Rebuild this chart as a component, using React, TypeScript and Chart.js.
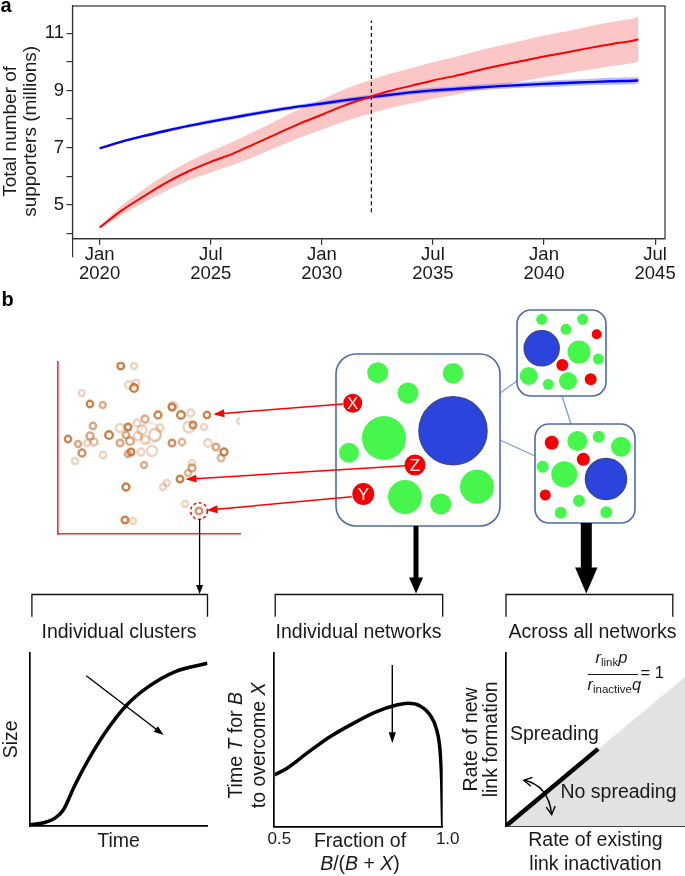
import React, { useEffect, useRef } from 'react';
import { Chart, registerables } from 'chart.js';

Chart.register(...registerables);

const FONT = '"Liberation Sans", Arial, Helvetica, sans-serif';

// ---------------- Panel a data ----------------
const timeX = [0, 1, 2, 3, 4, 5, 6, 7, 8, 9, 10, 11, 12, 13, 14, 15, 16, 17, 18, 19, 20, 21, 22, 23, 24, 24.25];
const redMean = [4.2, 4.8, 5.3, 5.77, 6.17, 6.5, 6.79, 7.14, 7.49, 7.84, 8.15, 8.47, 8.73, 8.97, 9.16, 9.35, 9.51, 9.7, 9.87, 10.03, 10.19, 10.33, 10.48, 10.62, 10.74, 10.79];
const redUpper = [4.25, 4.97, 5.55, 6.07, 6.5, 6.87, 7.2, 7.58, 7.96, 8.34, 8.68, 9.03, 9.31, 9.57, 9.78, 9.99, 10.17, 10.38, 10.57, 10.74, 10.92, 11.07, 11.24, 11.39, 11.52, 11.57];
const redLower = [4.15, 4.65, 5.08, 5.49, 5.85, 6.13, 6.39, 6.7, 7.02, 7.34, 7.62, 7.91, 8.15, 8.37, 8.54, 8.71, 8.85, 9.02, 9.17, 9.32, 9.46, 9.59, 9.72, 9.85, 9.96, 10.01];
const blueMean = [6.97, 7.21, 7.41, 7.59, 7.76, 7.91, 8.05, 8.19, 8.32, 8.44, 8.54, 8.65, 8.75, 8.84, 8.93, 9.0, 9.05, 9.1, 9.15, 9.19, 9.23, 9.26, 9.29, 9.32, 9.34, 9.35];
const blueUpper = [7.0, 7.25, 7.46, 7.65, 7.82, 7.98, 8.12, 8.26, 8.39, 8.51, 8.62, 8.73, 8.83, 8.92, 9.01, 9.09, 9.14, 9.2, 9.25, 9.29, 9.34, 9.37, 9.4, 9.44, 9.46, 9.47];
const blueLower = [6.94, 7.17, 7.36, 7.53, 7.7, 7.84, 7.98, 8.12, 8.25, 8.37, 8.46, 8.57, 8.67, 8.76, 8.85, 8.91, 8.96, 9.0, 9.05, 9.09, 9.12, 9.15, 9.18, 9.2, 9.22, 9.23];
const dashX = [12.23, 12.23];
const dashY = [4.74, 11.45];
const xTickValues = [0, 5, 10, 15, 20, 25];
const xTickMonths = ['Jan', 'Jul', 'Jan', 'Jul', 'Jan', 'Jul'];
const xTickYears = ['2020', '2025', '2030', '2035', '2040', '2045'];
const yTickValues = [4, 5, 6, 7, 8, 9, 10, 11];
const yTickLabels = ['', '5', '', '7', '', '9', '', '11'];

// ---------------- Panel b: cluster scatter ----------------
const clusterX = [62.7, 76, 71, 78, 76, 23.7, 32, 44.7, 114, 115, 123, 132.7, 149, 182, 100, 87, 35, 70, 62, 79, 92, 97, 135, 131, 146, 10, 32, 51, 68, 72, 20, 29, 36, 62, 114, 124, 150, 158, 166, 163, 24, 45, 73, 70, 83, 94, 17, 86, 134, 134, 130, 122, 109, 105, 68, 127, 141, 67, 75, 84, 102, 87, 80];
const clusterY = [168, 168, 149, 151, 146, 141, 130, 129, 127, 128, 119, 121, 119, 113, 119, 115, 108, 107, 106, 111, 101, 99, 109, 107, 107, 95, 98, 99, 99, 93, 90, 91, 92, 91, 91, 92, 91, 87, 82, 76, 81, 79, 82, 80, 82, 83, 73, 69, 71, 66, 61, 55, 51, 47, 47, 30, 23, 14, 13, 104, 106, 94, 98];
const clusterR = [3.3, 3, 3.8, 3.3, 3.8, 3, 3.2, 3, 3.3, 4.3, 3.8, 3.5, 3.2, 3, 3.5, 3.5, 3.2, 3.3, 4, 3.5, 10, 6, 3.3, 5.5, 3, 3.2, 3.5, 3.8, 3.2, 3.8, 3, 3, 3.5, 3.3, 3.3, 3.2, 3.8, 3.3, 3.5, 3.3, 3.5, 3.3, 3.3, 3, 3.5, 5, 3, 3, 3, 3.5, 3, 3.3, 3, 3, 3.5, 3, 3.3, 3.3, 3, 4.5, 3.5, 4, 4];
const clusterAlpha = [0.85, 0.3, 0.3, 0.3, 0.85, 0.3, 0.85, 0.55, 0.85, 0.3, 0.85, 0.3, 0.85, 0.3, 0.8, 0.55, 0.6, 0.85, 0.3, 0.3, 0.15, 0.35, 0.8, 0.3, 0.3, 0.85, 0.6, 0.85, 0.6, 0.6, 0.6, 0.3, 0.45, 0.6, 0.75, 0.5, 0.3, 0.6, 0.85, 0.5, 0.75, 0.3, 0.85, 0.6, 0.3, 0.3, 0.3, 0.55, 0.3, 0.6, 0.5, 0.85, 0.3, 0.3, 0.85, 0.3, 0.7, 0.85, 0.3, 0.3, 0.3, 0.3, 0.3];
const highlightIndex = 56;

// ---------------- Panel b: networks ----------------
const netX = [57.7, 133, 88, 32.7, 64, 133, 29, 95, 157, 43.3, 85, 120.7,
  221.7, 262.7, 246, 276.7, 221.7, 259, 278.3, 242.3, 208.7, 228.3, 248, 270.7,
  231.7, 257.3, 278.7, 301, 263.3, 222.7, 244.3, 286, 225.3, 259, 240.7, 286.3];
const netY = [72.7, 73.3, 93, 103.3, 138, 130.7, 152.7, 165, 186.7, 194, 197, 204,
  19.3, 19.3, 29.3, 34.3, 48.3, 52, 59, 65, 76, 84.3, 81, 79.3,
  142.7, 141, 136.7, 146.7, 159.3, 166.7, 174.3, 179, 195, 200.7, 212.7, 212.3];
const netR = [10.5, 10.3, 10.5, 9.5, 22, 34, 10, 10.5, 17, 11, 17, 10.5,
  5.5, 5.5, 5.5, 5, 17.5, 11.5, 5.5, 6, 9, 5.5, 9, 6,
  7, 10, 6, 10, 6.5, 6, 13, 20.5, 5.5, 6, 6, 6];
const netKind = ['g', 'g', 'g', 'r', 'g', 'b', 'g', 'r', 'g', 'r', 'g', 'g',
  'g', 'g', 'g', 'r', 'b', 'g', 'g', 'r', 'g', 'g', 'g', 'r',
  'r', 'g', 'g', 'g', 'r', 'g', 'g', 'b', 'r', 'g', 'g', 'g'];
const netLabel = ['', '', '', 'X', '', '', '', 'Z', '', 'Y', '', '',
  '', '', '', '', '', '', '', '', '', '', '', '',
  '', '', '', '', '', '', '', '', '', '', '', ''];
const boxX0 = [16, 197, 215];
const boxY0 = [54, 10, 124];
const boxX1 = [180, 286, 315];
const boxY1 = [226, 96, 223];
const boxRadius = [20, 14, 14];
const linkX0 = [180, 180, 242];
const linkY0 = [93, 140, 96];
const linkX1 = [197, 215, 251];
const linkY1 = [81, 156, 124];

// ---------------- Panel b: small charts ----------------
const sizeTimeX = [0, 0.79, 1.4, 1.89, 2.5, 3.24, 4.22, 5.46, 6.68, 8.16, 10];
const sizeY = [0.06, 0.19, 0.44, 0.92, 2.27, 3.71, 5.35, 6.98, 8.04, 8.9, 9.39];
const fractionX = [0.5, 0.5368, 0.596, 0.6654, 0.7346, 0.804, 0.8634, 0.898, 0.9326, 0.9623, 0.9822, 0.992, 0.997, 1.0];
const timeTY = [2.97, 3.35, 4.21, 5.17, 5.94, 6.61, 6.99, 7.09, 6.94, 6.42, 5.56, 4.41, 2.68, 0];
const fracTicks = [0.5, 1.0];
const thresholdX = [0, 10];
const thresholdY = [0, 8.6];
const spreadLineX = [0, 5.15];
const spreadLineY = [0, 4.45];

const GREEN = 'rgb(70,246,76)';
const BLUE = 'rgb(43,68,222)';
const RED = 'rgb(245,0,0)';

const xy = (xs: number[], ys: number[]) => xs.map((x, i) => ({ x, y: ys[i] }));

const zeroPadV = (w: number) => (s: any) => { s.width = w; s.paddingTop = 0; s.paddingBottom = 0; };
const zeroPadH = (h: number) => (s: any) => { s.height = h; s.paddingLeft = 0; s.paddingRight = 0; };

const framePlugin = {
  id: 'frame',
  afterDraw(chart: any) {
    const { ctx, chartArea } = chart;
    ctx.save();
    ctx.strokeStyle = '#333';
    ctx.lineWidth = 1.2;
    ctx.strokeRect(chartArea.left, chartArea.top, chartArea.right - chartArea.left, chartArea.bottom - chartArea.top);
    ctx.restore();
  },
};

// moves the centre of the y-axis title a little lower, as in the original figure
const titleShiftPlugin = {
  id: 'titleShift',
  afterLayout(chart: any) {
    const y = chart.scales.y;
    if (y) y.bottom += 18;
  },
};

const noAxis = (min: number, max: number, reverse = false) => ({
  type: 'linear', display: false, min, max, reverse,
});

const baseOptions = (padding: any) => ({
  responsive: false, animation: false, events: [],
  layout: { padding, autoPadding: false },
  plugins: { legend: { display: false }, tooltip: { enabled: false } },
});

function panelAConfig(): any {
  const tickFont = { family: FONT, size: 18.5, lineHeight: 1.0 };
  const grid = { display: true, drawOnChartArea: false, drawTicks: true, tickLength: 6, color: '#333', lineWidth: 1.2 };
  const border = { display: true, color: '#333', width: 1.2 };
  const line = { pointRadius: 0, cubicInterpolationMode: 'monotone', fill: false };
  return {
    type: 'line',
    data: {
      datasets: [
        { ...line, data: xy(timeX, redMean), borderColor: '#ff0000', borderWidth: 2, order: 0 },
        { ...line, data: xy(timeX, blueMean), borderColor: '#0000ff', borderWidth: 2.4, order: 1 },
        { ...line, data: xy(dashX, dashY), borderColor: '#111', borderWidth: 1.2, borderDash: [4, 3], order: 2 },
        { ...line, data: xy(timeX, blueUpper), borderWidth: 0, borderColor: 'rgba(0,0,0,0)', backgroundColor: 'rgba(95,95,240,0.42)', fill: '+1', order: 3 },
        { ...line, data: xy(timeX, blueLower), borderWidth: 0, borderColor: 'rgba(0,0,0,0)', order: 4 },
        { ...line, data: xy(timeX, redUpper), borderWidth: 0, borderColor: 'rgba(0,0,0,0)', backgroundColor: 'rgba(245,120,120,0.42)', fill: '+1', order: 5 },
        { ...line, data: xy(timeX, redLower), borderWidth: 0, borderColor: 'rgba(0,0,0,0)', order: 6 },
      ],
    },
    options: {
      ...baseOptions({ top: 6, right: 20, left: 0, bottom: 0 }),
      scales: {
        x: {
          type: 'linear', min: -1.22, max: 25.445,
          afterBuildTicks: (s: any) => { s.ticks = xTickValues.map((v) => ({ value: v })); },
          afterFit: zeroPadH(51.3),
          grid, border,
          ticks: {
            padding: 1, color: '#1a1a1a', font: tickFont, maxRotation: 0, autoSkip: false,
            callback: (v: number) => { const i = xTickValues.indexOf(v); return i < 0 ? '' : [xTickMonths[i], xTickYears[i]]; },
          },
        },
        y: {
          type: 'linear', min: 3.81, max: 11.955,
          afterBuildTicks: (s: any) => { s.ticks = yTickValues.map((v) => ({ value: v })); },
          afterFit: zeroPadV(72.5),
          grid, border,
          ticks: {
            padding: 2.5, color: '#1a1a1a', font: { family: FONT, size: 18.5 }, autoSkip: false,
            callback: (v: number) => { const i = yTickValues.indexOf(v); return i < 0 ? '' : yTickLabels[i]; },
          },
          title: {
            display: true, text: ['Total number of', 'supporters (millions)'], color: '#1a1a1a',
            font: { family: FONT, size: 19, lineHeight: 1.03 }, padding: { top: 1, bottom: 0 },
          },
        },
      },
    },
    plugins: [framePlugin, titleShiftPlugin],
  };
}

const highlightPlugin = {
  id: 'highlight',
  afterDatasetsDraw(chart: any) {
    const el = chart.getDatasetMeta(0).data[highlightIndex];
    if (!el) return;
    const { ctx } = chart;
    ctx.save();
    ctx.strokeStyle = '#f00';
    ctx.lineWidth = 1.5;
    ctx.setLineDash([3, 2.5]);
    ctx.beginPath();
    ctx.arc(el.x, el.y, 8.3, 0, Math.PI * 2);
    ctx.stroke();
    ctx.restore();
  },
};

function clusterConfig(): any {
  const border = { display: true, color: '#ff2a2a', width: 1.6 };
  return {
    type: 'scatter',
    data: {
      datasets: [{
        data: xy(clusterX, clusterY),
        pointRadius: clusterR,
        pointBackgroundColor: 'rgba(255,255,255,0)',
        pointBorderColor: clusterAlpha.map((a) => `rgba(195,108,45,${a})`),
        pointBorderWidth: 2.4,
      }],
    },
    options: {
      ...baseOptions({ left: 8, top: 7, right: 10, bottom: 6 }),
      scales: {
        x: { type: 'linear', min: 0, max: 182, ticks: { display: false }, grid: { display: false, drawTicks: false }, border, afterFit: zeroPadH(0) },
        y: { type: 'linear', min: 0, max: 172, ticks: { display: false }, grid: { display: false, drawTicks: false }, border, afterFit: zeroPadV(0) },
      },
    },
    plugins: [highlightPlugin],
  };
}

const networkPlugin = {
  id: 'networkBoxes',
  beforeDatasetsDraw(chart: any) {
    const { ctx, scales } = chart;
    const sx = scales.x, sy = scales.y;
    ctx.save();
    ctx.strokeStyle = 'rgb(125,155,220)';
    ctx.lineWidth = 1.3;
    linkX0.forEach((_, i) => {
      ctx.beginPath();
      ctx.moveTo(sx.getPixelForValue(linkX0[i]), sy.getPixelForValue(linkY0[i]));
      ctx.lineTo(sx.getPixelForValue(linkX1[i]), sy.getPixelForValue(linkY1[i]));
      ctx.stroke();
    });
    boxX0.forEach((_, i) => {
      const x0 = sx.getPixelForValue(boxX0[i]);
      const x1 = sx.getPixelForValue(boxX1[i]);
      const y0 = sy.getPixelForValue(boxY0[i]);
      const y1 = sy.getPixelForValue(boxY1[i]);
      ctx.beginPath();
      ctx.roundRect(x0, y0, x1 - x0, y1 - y0, boxRadius[i]);
      ctx.fillStyle = '#fff';
      ctx.fill();
      ctx.strokeStyle = 'rgb(78,108,168)';
      ctx.lineWidth = 1.6;
      ctx.stroke();
    });
    ctx.restore();
  },
  afterDatasetsDraw(chart: any) {
    const { ctx } = chart;
    const meta = chart.getDatasetMeta(0);
    ctx.save();
    ctx.fillStyle = '#fff';
    ctx.font = `17px ${FONT}`;
    ctx.textAlign = 'center';
    ctx.textBaseline = 'middle';
    netLabel.forEach((t, i) => {
      if (!t) return;
      const el = meta.data[i];
      ctx.fillText(t, el.x, el.y + 1);
    });
    ctx.restore();
  },
};

function networkConfig(): any {
  const colorOf = (k: string) => (k === 'g' ? GREEN : k === 'b' ? BLUE : RED);
  return {
    type: 'bubble',
    data: {
      datasets: [{
        data: netX.map((x, i) => ({ x, y: netY[i], r: netR[i] })),
        backgroundColor: netKind.map(colorOf),
        borderColor: netKind.map((k) => (k === 'b' ? 'rgb(55,70,150)' : colorOf(k))),
        borderWidth: netKind.map((k) => (k === 'b' ? 1.5 : 0)),
      }],
    },
    options: {
      ...baseOptions(0),
      scales: { x: noAxis(0, 365), y: noAxis(0, 235, true) },
    },
    plugins: [networkPlugin],
  };
}

function miniScales(opts: any): any {
  const border = { display: true, color: '#000', width: 1.7 };
  return {
    x: {
      type: 'linear', min: opts.xmin, max: opts.xmax,
      grid: { display: false, drawTicks: false }, border,
      afterFit: zeroPadH(opts.xh),
      ticks: opts.xticks || { display: false },
      afterBuildTicks: opts.xTickValues ? (s: any) => { s.ticks = opts.xTickValues.map((v: number) => ({ value: v })); } : undefined,
      title: opts.xtitle ? { display: true, text: opts.xtitle, color: '#1a1a1a', font: { family: FONT, size: 19.5, lineHeight: 1.2 }, padding: { top: 0, bottom: opts.xpad } } : { display: false },
    },
    y: {
      type: 'linear', min: 0, max: 10,
      grid: { display: false, drawTicks: false }, border,
      ticks: { display: false },
      afterFit: zeroPadV(opts.yw),
      title: opts.ytitle ? { display: true, text: opts.ytitle, color: '#1a1a1a', font: { family: FONT, size: 19.5, lineHeight: opts.ylh || 1.2 }, padding: { top: opts.ypad, bottom: 0 } } : { display: false },
    },
  };
}

function mini1Config(): any {
  return {
    type: 'line',
    data: { datasets: [{ data: xy(sizeTimeX, sizeY), borderColor: '#000', borderWidth: 3.5, pointRadius: 0, cubicInterpolationMode: 'monotone', fill: false }] },
    options: {
      ...baseOptions({ top: 7.7, right: 7.5, left: 0, bottom: 0 }),
      scales: miniScales({ xmin: 0, xmax: 10, xh: 50, yw: 29.7, xtitle: 'Time', xpad: 23.1, ytitle: 'Size', ypad: 0 }),
    },
  };
}

function mini2Config(): any {
  return {
    type: 'line',
    data: { datasets: [{ data: xy(fractionX, timeTY), borderColor: '#000', borderWidth: 3.5, pointRadius: 0, cubicInterpolationMode: 'monotone', fill: false }] },
    options: {
      ...baseOptions({ top: 7.7, right: 17.3, left: 0, bottom: 0 }),
      scales: miniScales({
        xmin: 0.5, xmax: 1.0, xh: 49.3, yw: 54.3,
        xTickValues: fracTicks,
        xticks: { display: true, padding: 2, labelOffset: 5, color: '#1a1a1a', font: { family: FONT, size: 17 }, maxRotation: 0, autoSkip: false, callback: (v: number) => v.toFixed(1) },
      }),
    },
  };
}

function mini3Config(): any {
  return {
    type: 'line',
    data: {
      datasets: [
        { data: xy(spreadLineX, spreadLineY), borderColor: '#000', borderWidth: 4.5, pointRadius: 0, fill: false, order: 0 },
        { data: xy(thresholdX, thresholdY), borderColor: 'rgba(0,0,0,0)', borderWidth: 0, backgroundColor: 'rgb(226,226,226)', pointRadius: 0, fill: 'origin', order: 1 },
      ],
    },
    options: {
      ...baseOptions({ top: 7.7, right: 0, left: 0, bottom: 0 }),
      scales: miniScales({
        xmin: 0, xmax: 10, xh: 50, yw: 50.9,
        xtitle: ['Rate of existing', 'link inactivation'], xpad: 0,
        ytitle: ['Rate of new', 'link formation'], ypad: 6.2, ylh: 1.03,
      }),
    },
  };
}

function ChartCanvas({ left, top, width, height, make }: any) {
  const ref = useRef<HTMLCanvasElement>(null);
  useEffect(() => {
    const chart = new Chart(ref.current as HTMLCanvasElement, make());
    return () => chart.destroy();
  }, []);
  return <canvas ref={ref} width={width} height={height} style={{ position: 'absolute', left, top, width, height }} />;
}

function Arrow({ x1, y1, x2, y2, color = '#000', width = 1.3, headLen = 10, headWid = 4 }: any) {
  const dx = x2 - x1, dy = y2 - y1, d = Math.hypot(dx, dy);
  const ux = dx / d, uy = dy / d;
  const bx = x2 - ux * headLen, by = y2 - uy * headLen;
  const px = -uy, py = ux;
  return (
    <g>
      <line x1={x1} y1={y1} x2={bx + ux * 1} y2={by + uy * 1} stroke={color} strokeWidth={width} />
      <polygon points={`${x2},${y2} ${bx + px * headWid},${by + py * headWid} ${bx - px * headWid},${by - py * headWid}`} fill={color} />
    </g>
  );
}

function OpenHead({ x, y, dx, dy, len = 8, wid = 4.5 }: any) {
  const d = Math.hypot(dx, dy), ux = dx / d, uy = dy / d;
  const bx = x - ux * len, by = y - uy * len;
  const px = -uy, py = ux;
  return <polyline points={`${bx + px * wid},${by + py * wid} ${x},${y} ${bx - px * wid},${by - py * wid}`} fill="none" stroke="#000" strokeWidth={1.4} />;
}

const textBase: any = { position: 'absolute', whiteSpace: 'nowrap', fontFamily: FONT, color: '#1a1a1a', lineHeight: 1 };

function Label({ cx, left, baseline, size = 19.5, children, style }: any) {
  const top = baseline - 0.8465 * size;
  const s: any = { ...textBase, fontSize: size, top, ...style };
  if (cx !== undefined) { s.left = cx; s.transform = 'translateX(-50%)'; } else { s.left = left; }
  return <div style={s}>{children}</div>;
}

export default function App() {
  useEffect(() => {
    document.body.style.margin = '0';
  }, []);
  return (
    <div style={{ position: 'absolute', left: 0, top: 0, width: 685, height: 876, background: '#fff', overflow: 'hidden', fontFamily: FONT }}>
      <ChartCanvas left={0} top={0} width={685} height={290} make={panelAConfig} />
      <ChartCanvas left={50} top={355} width={200} height={185} make={clusterConfig} />
      <ChartCanvas left={320} top={300} width={365} height={235} make={networkConfig} />
      <ChartCanvas left={0} top={645} width={215} height={231} make={mini1Config} />
      <ChartCanvas left={220} top={645} width={240} height={231} make={mini2Config} />
      <ChartCanvas left={455} top={645} width={230} height={231} make={mini3Config} />

      <svg width={685} height={876} style={{ position: 'absolute', left: 0, top: 0, pointerEvents: 'none' }}>
        {/* red link arrows */}
        <Arrow x1={343} y1={404} x2={213.3} y2={414.2} color="#f00" width={1.5} headLen={11} headWid={4} />
        <Arrow x1={405} y1={465.7} x2={185.5} y2={479.3} color="#f00" width={1.5} headLen={11} headWid={4} />
        <Arrow x1={351.7} y1={496.7} x2={206.5} y2={510.3} color="#f00" width={1.5} headLen={11} headWid={4} />
        {/* brackets */}
        <path d="M31.9 616.7 V594.5 H207.5 V616.7" fill="none" stroke="#111" strokeWidth={1.3} />
        <path d="M275.2 616.7 V594.5 H442.7 V616.7" fill="none" stroke="#111" strokeWidth={1.3} />
        <path d="M506 616.7 V594.5 H672.8 V616.7" fill="none" stroke="#111" strokeWidth={1.3} />
        {/* down arrows */}
        <Arrow x1={199.6} y1={519.5} x2={199.6} y2={594} width={1.3} headLen={9} headWid={3.5} />
        <Arrow x1={416} y1={526} x2={416} y2={593.5} width={5} headLen={16} headWid={7} />
        <Arrow x1={586.3} y1={523} x2={586.3} y2={593.5} width={11} headLen={26} headWid={11.2} />
        {/* mini chart arrows */}
        <Arrow x1={86.3} y1={675.7} x2={163.7} y2={735} width={1.4} headLen={10} headWid={3.5} />
        <Arrow x1={392.3} y1={665} x2={392.3} y2={743.3} width={1.4} headLen={11} headWid={3.6} />
        <path d="M523.8 780.3 Q548 785 551.7 814" fill="none" stroke="#000" strokeWidth={1.4} />
        <OpenHead x={523.8} y={780.3} dx={-24.2} dy={-4.7} />
        <OpenHead x={551.7} y={814.5} dx={3.7} dy={29} />
      </svg>

      <Label left={0.5} baseline={11.7} size={20} style={{ fontWeight: 'bold', color: '#000' }}>a</Label>
      <Label left={1.5} baseline={305.6} size={20} style={{ fontWeight: 'bold', color: '#000' }}>b</Label>

      <Label cx={119} baseline={638.3}>Individual clusters</Label>
      <Label cx={358.5} baseline={638.3}>Individual networks</Label>
      <Label cx={592.5} baseline={638.3}>Across all networks</Label>

      <Label cx={360} baseline={848}>Fraction of</Label>
      <Label cx={360} baseline={870.5}><i>B</i>/(<i>B</i> + <i>X</i>)</Label>

      <div style={{ ...textBase, fontSize: 19.5, lineHeight: '23.3px', width: 200, height: 46.6, left: 246.6 - 100, top: 745 - 23.3, textAlign: 'center', transform: 'rotate(-90deg)' }}>
        <div>Time <i>T</i> for <i>B</i></div>
        <div>to overcome <i>X</i></div>
      </div>

      <Label left={510} baseline={740.6}>Spreading</Label>
      <Label left={560.5} baseline={799}>No spreading</Label>

      <Label left={595.5} baseline={663.3} size={16.5}><i>r</i><span style={{ fontSize: 11.5, position: 'relative', top: 3 }}>link</span><i>p</i></Label>
      <div style={{ position: 'absolute', left: 588.3, top: 673.7, width: 50, height: 1.2, background: '#1a1a1a' }} />
      <Label left={587.5} baseline={690} size={16.5}><i>r</i><span style={{ fontSize: 11.5, position: 'relative', top: 3 }}>inactive</span><i>q</i></Label>
      <Label left={640.5} baseline={678.3} size={16.5}>= 1</Label>
    </div>
  );
}
